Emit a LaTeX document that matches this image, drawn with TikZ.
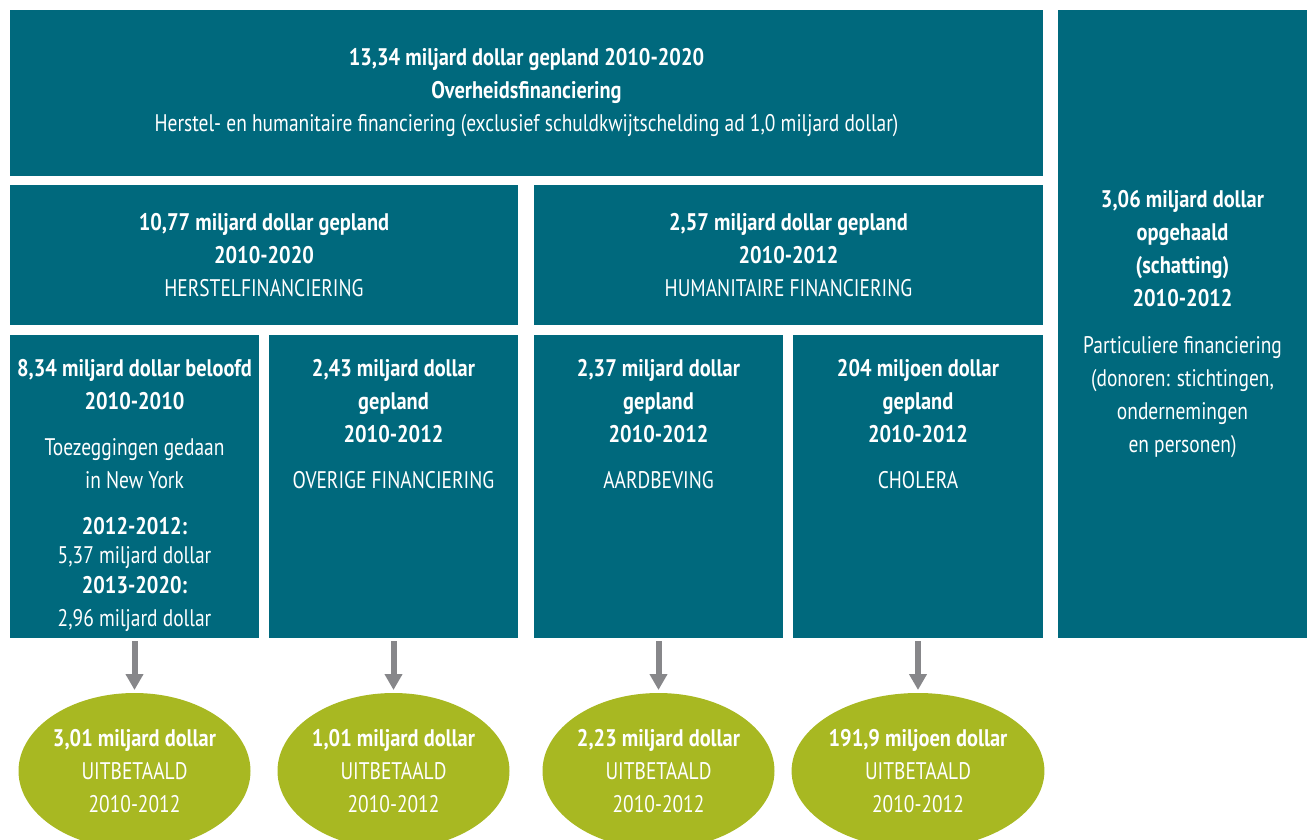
\documentclass[tikz,border=0pt]{standalone}
\usepackage{fontspec}
\setmainfont{PT Sans}[FakeStretch=0.81, BoldFeatures={FakeStretch=0.85}]
\usetikzlibrary{arrows.meta,shapes.geometric}
\definecolor{myTeal}{HTML}{00697D}
\definecolor{myOlive}{HTML}{A8B822}
\definecolor{myGrey}{HTML}{87878A}

\begin{document}
\begin{tikzpicture}[x=1pt, y=-1pt, >={Triangle[width=17pt,length=16pt]}, line width=6pt, ->, myGrey]

  \tikzstyle{T}=[rectangle,fill=myTeal,text=white,align=center,inner sep=0pt,font=\fontsize{24}{33}\selectfont]
  \tikzstyle{L}=[text=white,align=center,inner sep=0pt,anchor=north,font=\fontsize{24}{33}\selectfont]
  \tikzstyle{E}=[ellipse,fill=myOlive,text=white,align=center,minimum width=232pt,minimum height=156pt,inner sep=0pt,font=\fontsize{24}{33}\selectfont]

  \useasboundingbox (0,0) rectangle (1310,840);
  \clip (0,0) rectangle (1310,840);

  % overheid en particulier
  \node[T, minimum width=1033pt, minimum height=166pt] at (526.5,93) (overheid)
    {\textbf{13,34 miljard dollar gepland 2010-2020}\\
     \textbf{Overheidsfinanciering}\\
     Herstel- en humanitaire financiering (exclusief schuldkwijtschelding ad 1,0 miljard dollar)};
  \node[T, minimum width=249pt, minimum height=628pt] at (1182.5,324) (particulier)
    {\textbf{3,06 miljard dollar}\\ \textbf{opgehaald}\\ \textbf{(schatting)}\\ \textbf{2010-2012}\\[14pt]
     Particuliere financiering\\ (donoren: stichtingen,\\ ondernemingen\\ en personen)};

  % herstel / humanitair
  \node[T, minimum width=508pt, minimum height=139pt] at (264,255) (herstel)
    {\textbf{10,77 miljard dollar gepland}\\ \textbf{2010-2020}\\ HERSTELFINANCIERING};
  \node[T, minimum width=509pt, minimum height=139pt] at (788.5,255) (humanitair)
    {\textbf{2,57 miljard dollar gepland}\\ \textbf{2010-2012}\\ HUMANITAIRE FINANCIERING};

  % onderste rij
  \node[T, minimum width=249pt, minimum height=303pt] at (134.5,486.5) (beloofd) {};
  \node[T, minimum width=249pt, minimum height=303pt] at (393.5,486.5) (overig) {};
  \node[T, minimum width=249pt, minimum height=303pt] at (658.5,486.5) (aardbeving) {};
  \node[T, minimum width=250pt, minimum height=303pt] at (918,486.5) (cholera) {};

  \node[L] at (134.5,356) (beloofdT)
    {\textbf{8,34 miljard dollar beloofd}\\ \textbf{2010-2010}\\[13pt]
     Toezeggingen gedaan\\ in New York\\[13pt]
     \textbf{2012-2012:}\\[-4pt] 5,37 miljard dollar\\[-3pt] \textbf{2013-2020:}\\ 2,96 miljard dollar};
  \node[L] at (393.5,356) (overigT)
    {\textbf{2,43 miljard dollar}\\ \textbf{gepland}\\ \textbf{2010-2012}\\[13pt] OVERIGE FINANCIERING};
  \node[L] at (658.5,356) (aardbevingT)
    {\textbf{2,37 miljard dollar}\\ \textbf{gepland}\\ \textbf{2010-2012}\\[13pt] AARDBEVING};
  \node[L] at (918,356) (choleraT)
    {\textbf{204 miljoen dollar}\\ \textbf{gepland}\\ \textbf{2010-2012}\\[13pt] CHOLERA};

  % uitbetaald
  \node[E] at (134.5,771) (beloofdU) {\textbf{3,01 miljard dollar}\\ UITBETAALD\\ 2010-2012};
  \node[E] at (393.5,771) (overigU) {\textbf{1,01 miljard dollar}\\ UITBETAALD\\ 2010-2012};
  \node[E] at (658.5,771) (aardbevingU) {\textbf{2,23 miljard dollar}\\ UITBETAALD\\ 2010-2012};
  \node[E] at (918,771) (choleraU) {\textbf{191,9 miljoen dollar}\\ UITBETAALD\\ 2010-2012};

  \draw [] (beloofd.south) to (beloofdU.north);
  \draw [] (overig.south) to (overigU.north);
  \draw [] (aardbeving.south) to (aardbevingU.north);
  \draw [] (cholera.south) to (choleraU.north);

\end{tikzpicture}
\end{document}
